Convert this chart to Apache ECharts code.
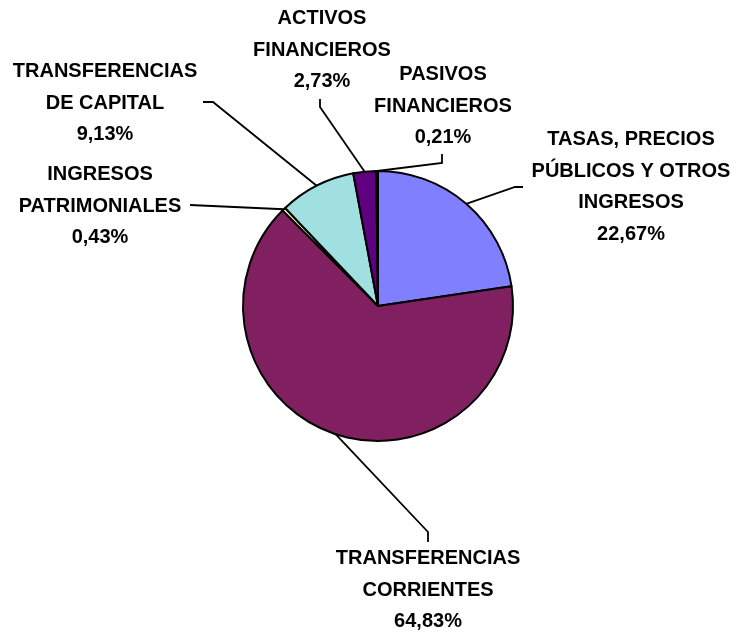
<!DOCTYPE html>
<html>
<head>
<meta charset="utf-8">
<script src="https://cdn.jsdelivr.net/npm/echarts@6/dist/echarts.min.js"></script>
<style>
html,body{margin:0;padding:0;background:#fff;}
#chart{width:736px;height:636px;}
</style>
</head>
<body>
<div id="chart"></div>
<script>
// Data
var categories = [
  'TASAS, PRECIOS\nPÚBLICOS Y OTROS\nINGRESOS',
  'TRANSFERENCIAS\nCORRIENTES',
  'INGRESOS\nPATRIMONIALES',
  'TRANSFERENCIAS\nDE CAPITAL',
  'ACTIVOS\nFINANCIEROS',
  'PASIVOS\nFINANCIEROS'
];
var values = [22.67, 64.83, 0.43, 9.13, 2.73, 0.21];
var colors = ['#8080FF', '#802060', '#FFFFC0', '#A0E0E0', '#600080', '#000080'];

// Label layout (style)
var labelPos = [
  [631, 187],
  [428, 590],
  [100, 206],
  [105, 103],
  [322, 50],
  [443, 106]
];
var lineBends = [
  [[515, 187], [523, 187]],
  [[428, 532], [428, 542]],
  [[190, 205]],
  [[213, 102], [203, 102]],
  [[320, 107], [320, 99]],
  [[442, 163], [442, 154]]
];

var chart = echarts.init(document.getElementById('chart'));
var data = categories.map(function (c, i) {
  return { name: c, value: values[i], itemStyle: { color: colors[i] } };
});
chart.setOption({
  backgroundColor: '#fff',
  animation: false,
  series: [{
    type: 'pie',
    center: [378, 306],
    radius: 135,
    startAngle: 90,
    clockwise: true,
    avoidLabelOverlap: false,
    data: data,
    itemStyle: { borderColor: '#000', borderWidth: 2 },
    label: {
      show: true,
      color: '#000',
      fontFamily: 'Liberation Sans, Arial, sans-serif',
      fontWeight: 'bold',
      fontSize: 20,
      lineHeight: 31.5,
      align: 'center',
      formatter: function (p) {
        return p.name + '\n' + p.value.toFixed(2).replace('.', ',') + '%';
      }
    },
    labelLine: {
      show: true,
      length: 20,
      length2: 10,
      lineStyle: { color: '#000', width: 1.8 }
    },
    labelLayout: function (params) {
      var i = params.dataIndex;
      var start = params.labelLinePoints ? params.labelLinePoints[0] : null;
      var pts = start ? [start].concat(lineBends[i]) : null;
      var out = {
        x: labelPos[i][0],
        y: labelPos[i][1],
        align: 'center',
        verticalAlign: 'middle'
      };
      if (pts) out.labelLinePoints = pts;
      return out;
    },
    emphasis: { disabled: true }
  }]
});
</script>
</body>
</html>
